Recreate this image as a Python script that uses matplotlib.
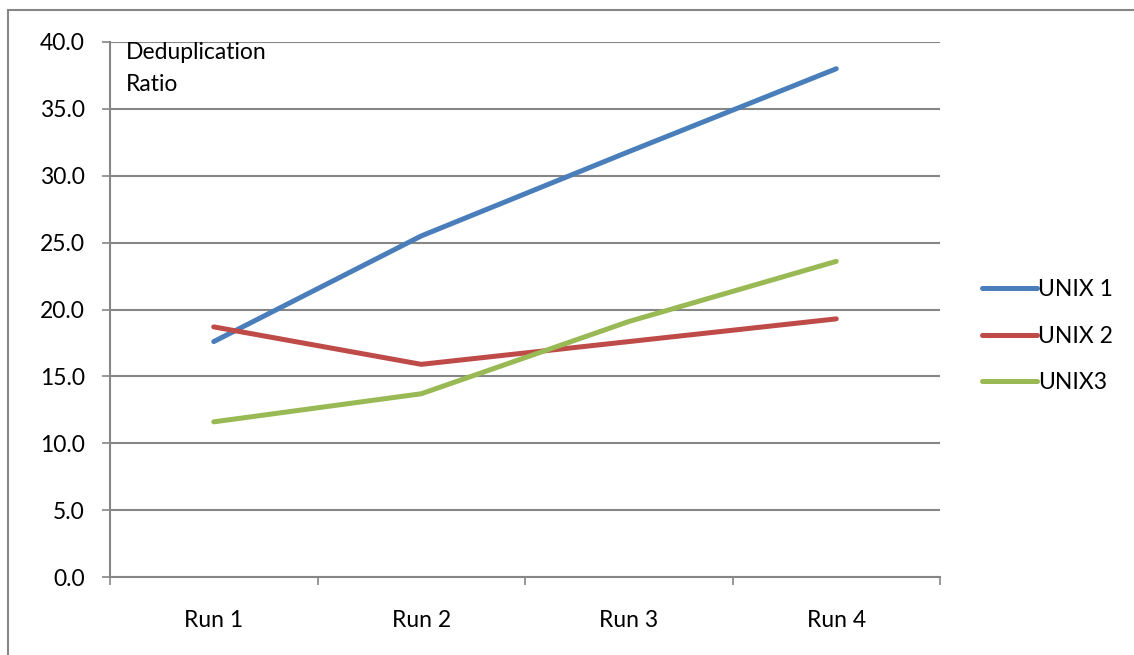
import matplotlib
matplotlib.use("Agg")
import matplotlib.pyplot as plt
from matplotlib.patches import Rectangle
import numpy as np

runs = ["Run 1", "Run 2", "Run 3", "Run 4"]
unix1 = [17.6, 25.5, 31.8, 38.0]
unix2 = [18.7, 15.9, 17.6, 19.3]
unix3 = [11.6, 13.7, 19.1, 23.6]
series_names = ["UNIX 1", "UNIX 2", "UNIX3"]
y_ticks = [0, 5, 10, 15, 20, 25, 30, 35, 40]

colors = ["#4A7EBB", "#BE4B48", "#98B954"]
grid_color = "#868686"
fs = 16.5

plt.rcParams["font.family"] = ["Lato", "DejaVu Sans"]

fig = plt.figure(figsize=(11.34, 6.55), dpi=100)
ax = fig.add_axes([110 / 1134, 78 / 655, 830 / 1134, 535 / 655])

# outer chart border
fig.patches.append(Rectangle((8 / 1134, -0.1), 1.2, (645 / 655) + 0.1,
                             transform=fig.transFigure, fill=False,
                             edgecolor=grid_color, linewidth=1.5))

x = np.arange(1, len(runs) + 1)
for vals, name, c in zip([unix1, unix2, unix3], series_names, colors):
    ax.plot(x, vals, color=c, linewidth=3.6, label=name,
            solid_capstyle="round", solid_joinstyle="round")

ax.set_xlim(0.5, len(runs) + 0.5)
ax.set_ylim(0, 40)
ax.set_yticks(y_ticks)
ax.set_yticklabels([f"{v:.1f}" for v in y_ticks])
ax.yaxis.grid(True, color=grid_color, linewidth=1.5)
ax.set_axisbelow(True)

# category boundaries as major ticks, labels centred on minor ticks
ax.set_xticks(np.arange(0.5, len(runs) + 1, 1.0))
ax.set_xticklabels([])
ax.set_xticks(x, minor=True)
ax.set_xticklabels(runs, minor=True)
ax.tick_params(axis="x", which="major", length=6, width=1.2, color=grid_color)
ax.tick_params(axis="x", which="minor", length=0, pad=24, labelsize=fs)
ax.tick_params(axis="y", length=6, width=1.2, color=grid_color, pad=12,
               labelsize=fs)

for side in ["top", "right"]:
    ax.spines[side].set_visible(False)
for side in ["left", "bottom"]:
    ax.spines[side].set_color(grid_color)
    ax.spines[side].set_linewidth(1.5)

ax.text(16 / 830, 1.0, "Deduplication\nRatio", transform=ax.transAxes,
        ha="left", va="top", fontsize=fs, linespacing=1.65)

leg = ax.legend(loc="center left", bbox_to_anchor=(1.05, 0.45), frameon=False,
                fontsize=fs, handlelength=2.4, handletextpad=0.08,
                labelspacing=1.12, borderpad=0, borderaxespad=0)

fig.savefig("out.png", dpi=100)
